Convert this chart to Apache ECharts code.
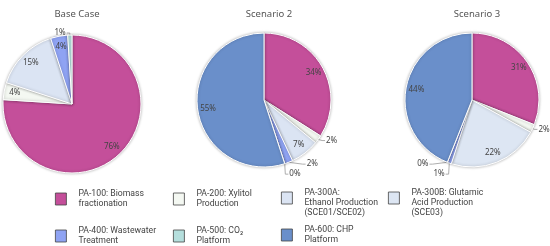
<!DOCTYPE html>
<html><head><meta charset="utf-8">
<script src="https://cdn.jsdelivr.net/npm/echarts@6/dist/echarts.min.js"></script>
<style>html,body{margin:0;padding:0;background:#fff}#c{width:550px;height:246px}</style>
</head><body><div id="c"></div>
<script>
const categories = ['PA-100: Biomass fractionation', 'PA-200: Xylitol Production', 'PA-300A: Ethanol Production (SCE01/SCE02)', 'PA-300B: Glutamic Acid Production (SCE03)', 'PA-400: Wastewater Treatment', 'PA-500: CO₂ Platform', 'PA-600: CHP Platform'];
const legendLabels = ['PA-100: Biomass\nfractionation', 'PA-200: Xylitol\nProduction', 'PA-300A:\nEthanol Production\n(SCE01/SCE02)', 'PA-300B: Glutamic\nAcid Production\n(SCE03)', 'PA-400: Wastewater\nTreatment', 'PA-500: CO₂\nPlatform', 'PA-600: CHP\nPlatform'];
const pieTitles = ['Base Case', 'Scenario 2', 'Scenario 3'];
// percentages; null = not drawn / not labelled
const baseCase  = [76, 4, 15, null, 4, 1, null];
const scenario2 = [34, 2, 7, null, 2, 0, 55];
const scenario3 = [31, 2, null, 22, 1, 0, 44];
const colors = ['#c44f9a', '#f4f8f2', '#dbe4f3', '#dde6f3', '#8fa3f3', '#b5dfdd', '#6a8fca'];

const pies = [
  {vals: baseCase, center: [72, 104], r: 69},
  {vals: scenario2, center: [264, 100], r: 67},
  {vals: scenario3, center: [472, 100], r: 67}
];
const chart = echarts.init(document.getElementById('c'));
const series = [];
const titles = [];
pies.forEach((p, i) => {
  const data = [];
  p.vals.forEach((v, k) => {
    if (v === null) return;
    const small = v < 3;
    data.push({
      name: categories[k], value: v,
      itemStyle: {color: colors[k]},
      label: {show: small},
      labelLine: {show: small}
    });
  });
  series.push({
    type: 'pie', center: p.center, radius: [0, p.r], startAngle: 90, clockwise: true,
    avoidLabelOverlap: true, animation: false,
    itemStyle: {borderColor: '#fff', borderWidth: 1, shadowBlur: 3, shadowColor: 'rgba(0,0,0,0.3)'},
    label: {position: 'outside', formatter: '{c}%', fontFamily: 'Noto Sans', fontSize: 8, color: '#444',
      distanceToLabelLine: 1, overflow: 'none', edgeDistance: 0},
    labelLine: {length: 2, length2: 3, lineStyle: {color: '#999', width: 0.8}},
    emphasis: {disabled: true},
    data: data
  });
  series.push({
    type: 'pie', center: p.center, radius: [p.r * 0.6, p.r], startAngle: 90, clockwise: true,
    silent: true, animation: false, legendHoverLink: false,
    itemStyle: {color: 'rgba(0,0,0,0)', borderWidth: 0},
    label: {position: 'inside', formatter: '{c}%', fontFamily: 'Noto Sans', fontSize: 8, color: '#444'},
    labelLine: {show: false},
    emphasis: {disabled: true},
    data: data.map(d => ({name: d.name, value: d.value, label: {show: d.value >= 3}}))
  });
  titles.push({text: pieTitles[i], left: p.center[0], top: 4, textAlign: 'center',
    textStyle: {fontFamily: 'Noto Sans', fontSize: 9.5, fontWeight: 'normal', color: '#555'}});
});

const legendPos = [[55, 189], [173, 189], [281, 178], [388, 178], [55, 226], [173, 226], [281, 225]];
const legends = categories.map((c, k) => {
  const threeLines = legendLabels[k].split('\n').length > 2;
  return {
    data: [c], left: legendPos[k][0], top: legendPos[k][1],
    itemWidth: 11, itemHeight: 12, padding: 0, selectedMode: false,
    icon: 'rect',
    itemStyle: {color: colors[k], borderColor: '#444', borderWidth: 0.8},
    formatter: () => (threeLines ? '\n' : '') + legendLabels[k],
    textStyle: {fontFamily: 'Roboto', fontSize: 8.7, color: '#444', lineHeight: 10, padding: [0, 0, 0, 7]}
  };
});

chart.setOption({
  animation: false,
  title: titles,
  legend: legends,
  series: series
});
</script></body></html>
